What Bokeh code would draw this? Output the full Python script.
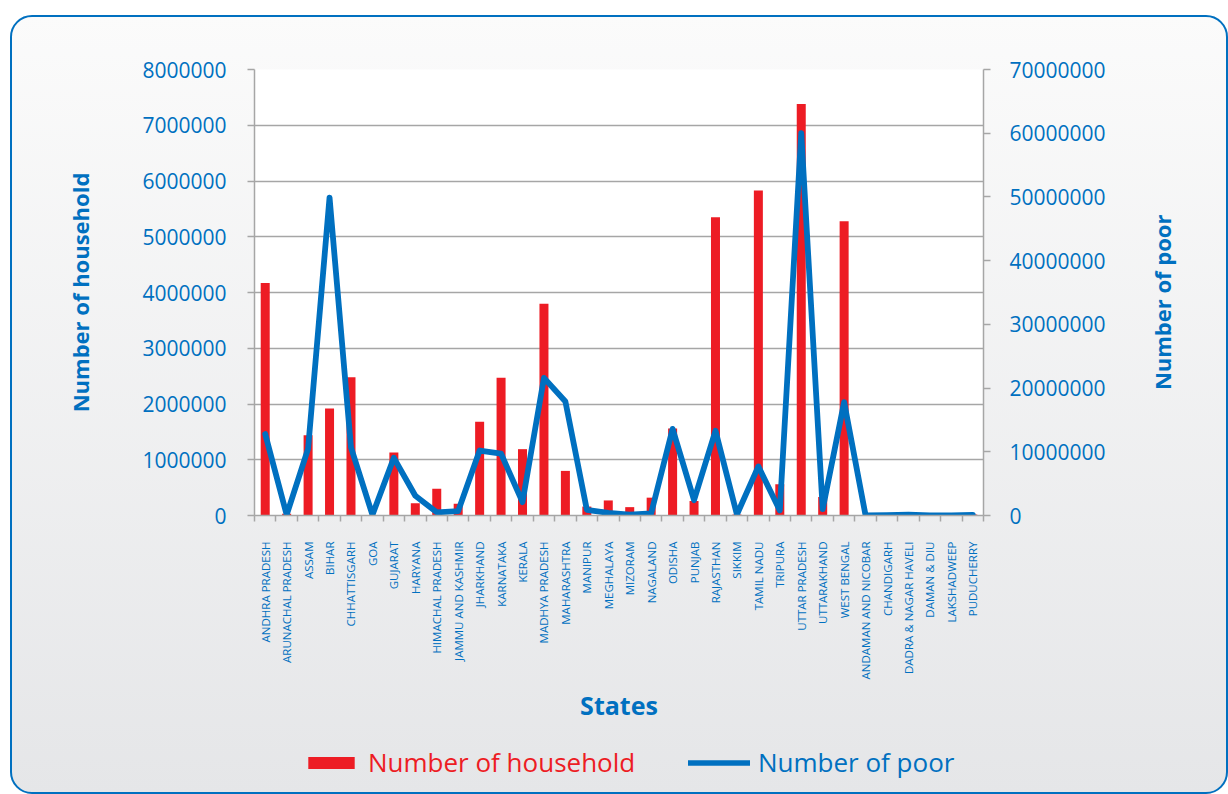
import math
from bokeh.plotting import figure
from bokeh.layouts import column, row
from bokeh.models import (Range1d, LinearAxis, FixedTicker, NumeralTickFormatter,
                          Legend, LegendItem, ColumnDataSource, Label)
from bokeh.embed import file_html
from bokeh.resources import INLINE

states = ["ANDHRA PRADESH", "ARUNACHAL PRADESH", "ASSAM", "BIHAR", "CHHATTISGARH", "GOA",
          "GUJARAT", "HARYANA", "HIMACHAL PRADESH", "JAMMU AND KASHMIR", "JHARKHAND",
          "KARNATAKA", "KERALA", "MADHYA PRADESH", "MAHARASHTRA", "MANIPUR", "MEGHALAYA",
          "MIZORAM", "NAGALAND", "ODISHA", "PUNJAB", "RAJASTHAN", "SIKKIM", "TAMIL NADU",
          "TRIPURA", "UTTAR PRADESH", "UTTARAKHAND", "WEST BENGAL", "ANDAMAN AND NICOBAR",
          "CHANDIGARH", "DADRA & NAGAR HAVELI", "DAMAN & DIU", "LAKSHADWEEP", "PUDUCHERRY"]

households = [4170000, 30000, 1440000, 1920000, 2480000, 10000, 1130000, 220000, 480000,
              210000, 1680000, 2470000, 1190000, 3800000, 800000, 160000, 270000, 150000,
              320000, 1560000, 260000, 5350000, 20000, 5830000, 560000, 7380000, 330000,
              5280000, 5000, 5000, 10000, 3000, 1000, 20000]

poor = [12800000, 100000, 10500000, 49900000, 10700000, 100000, 9050000, 3100000, 500000,
        700000, 10200000, 9700000, 2100000, 21600000, 17900000, 900000, 400000, 150000,
        350000, 13600000, 2400000, 13300000, 150000, 7700000, 800000, 60000000, 1000000,
        17800000, 20000, 50000, 150000, 30000, 10000, 100000]

left_ticks = [0, 1000000, 2000000, 3000000, 4000000, 5000000, 6000000, 7000000, 8000000]
right_ticks = [0, 10000000, 20000000, 30000000, 40000000, 50000000, 60000000, 70000000]

BLUE = "#0070c0"
RED = "#ed1c24"
GRAY = "#a6a6a6"

n = len(states)
xs = list(range(1, n + 1))
src = ColumnDataSource(dict(x=xs, hh=households, poor=poor, state=states))

p = figure(width=1120, height=730, output_backend="svg", toolbar_location=None,
           x_range=Range1d(0.5, n + 0.5), y_range=Range1d(0, 8000000),
           min_border_left=244, min_border_right=147, min_border_top=54,
           min_border_bottom=230)
p.extra_y_ranges = {"poor": Range1d(0, 70000000)}

p.background_fill_color = "white"
p.border_fill_color = None
p.outline_line_color = None

bars = p.vbar(x="x", top="hh", width=0.42, source=src, fill_color=RED, line_color=None)
line = p.line(x="x", y="poor", source=src, y_range_name="poor", line_width=5.8,
              line_color=BLUE, line_join="round", line_cap="round")

# x axis
xa = p.xaxis[0]
xa.ticker = FixedTicker(ticks=xs, minor_ticks=[i + 0.5 for i in range(0, n + 1)])
xa.major_label_overrides = {i + 1: s for i, s in enumerate(states)}
xa.major_label_orientation = math.pi / 2
xa.major_label_text_font = "Open Sans"
xa.major_label_text_font_size = "11.5px"
xa.major_label_text_color = BLUE
xa.major_label_standoff = 20
xa.major_tick_out = 0
xa.major_tick_in = 0
xa.minor_tick_out = 6
xa.minor_tick_in = 0
xa.minor_tick_line_color = GRAY
xa.minor_tick_line_width = 1.5
xa.axis_line_color = GRAY
xa.axis_line_width = 1.5
xa.axis_label = "States"
xa.axis_label_text_font = "Open Sans"
xa.axis_label_text_font_style = "bold"
xa.axis_label_text_font_size = "25px"
xa.axis_label_text_color = BLUE
xa.axis_label_standoff = 6

# left axis
ya = p.yaxis[0]
ya.ticker = FixedTicker(ticks=left_ticks)
ya.formatter = NumeralTickFormatter(format="0")
ya.major_label_text_font = "Open Sans"
ya.major_label_text_font_size = "21px"
ya.major_label_text_color = BLUE
ya.major_label_standoff = 21
ya.major_tick_out = 7
ya.major_tick_in = 0
ya.major_tick_line_color = GRAY
ya.major_tick_line_width = 1.5
ya.minor_tick_line_color = None
ya.axis_line_color = GRAY
ya.axis_line_width = 1.5
ya.axis_label = "Number of household"
ya.axis_label_text_font = "Open Sans"
ya.axis_label_text_font_style = "bold"
ya.axis_label_text_font_size = "22px"
ya.axis_label_text_color = BLUE
ya.axis_label_standoff = 44

# right axis (its title is drawn in the narrow panel to the right)
ra = LinearAxis(y_range_name="poor", ticker=FixedTicker(ticks=right_ticks),
                formatter=NumeralTickFormatter(format="0"))
ra.major_label_text_font = "Open Sans"
ra.major_label_text_font_size = "21px"
ra.major_label_text_color = BLUE
ra.major_label_standoff = 19
ra.major_tick_out = 7
ra.major_tick_in = 0
ra.major_tick_line_color = GRAY
ra.major_tick_line_width = 1.5
ra.minor_tick_line_color = None
ra.axis_line_color = GRAY
ra.axis_line_width = 1.5
p.add_layout(ra, "right")

p.xgrid.visible = False
p.ygrid.grid_line_color = GRAY
p.ygrid.grid_line_width = 1.5


def blank(width, height, **borders):
    f = figure(width=width, height=height, output_backend="svg", toolbar_location=None,
               x_range=Range1d(0, 1), y_range=Range1d(0, 1),
               x_axis_type=None, y_axis_type=None, **borders)
    f.background_fill_color = None
    f.border_fill_color = None
    f.outline_line_color = None
    f.xgrid.visible = False
    f.ygrid.visible = False
    return f


# right axis title panel
rf = blank(98, 730, min_border_left=0, min_border_right=0,
           min_border_top=54, min_border_bottom=230)
rf.add_layout(Label(x=0.32, y=0.478, text="Number of poor", angle=math.pi / 2,
                    text_align="center", text_baseline="middle",
                    text_font="Open Sans", text_font_style="bold",
                    text_font_size="22px", text_color=BLUE))

# legend strip
lf = blank(1218, 49, min_border_left=244, min_border_right=0,
           min_border_top=0, min_border_bottom=0)
dummy = ColumnDataSource(dict(x=[5, 6], top=[0.5, 0.5], y=[0.5, 0.5]))
lbar = lf.vbar(x="x", top="top", width=0.5, source=dummy, fill_color=RED, line_color=None,
               visible=False)
lline = lf.line(x="x", y="y", source=dummy, line_width=5.5, line_color=BLUE,
                line_cap="round", visible=False)


def make_legend(label, rend, color, loc, gw):
    return Legend(items=[LegendItem(label=label, renderers=[rend])], location=loc,
                  orientation="horizontal", padding=0, margin=0, spacing=0,
                  glyph_width=gw, glyph_height=15, label_standoff=8,
                  label_text_font="Open Sans", label_text_font_size="26px",
                  label_text_color=color, border_line_color=None,
                  background_fill_alpha=0)


lf.add_layout(make_legend("Number of household", lbar, RED, (48, 14), 58))
lf.add_layout(make_legend("Number of poor", lline, BLUE, (434, 14), 62))

layout = column(row(p, rf, spacing=0), lf, spacing=0)
layout.styles = {
    "margin-left": "10px",
    "margin-top": "15px",
    "background": "linear-gradient(to bottom, #fbfbfb 0%, #e5e6e8 100%)",
    "border-radius": "22px",
    "outline": "2.5px solid #0070c0",
    "outline-offset": "-2.5px",
}

open("out.html", "w").write(file_html(layout, INLINE))
